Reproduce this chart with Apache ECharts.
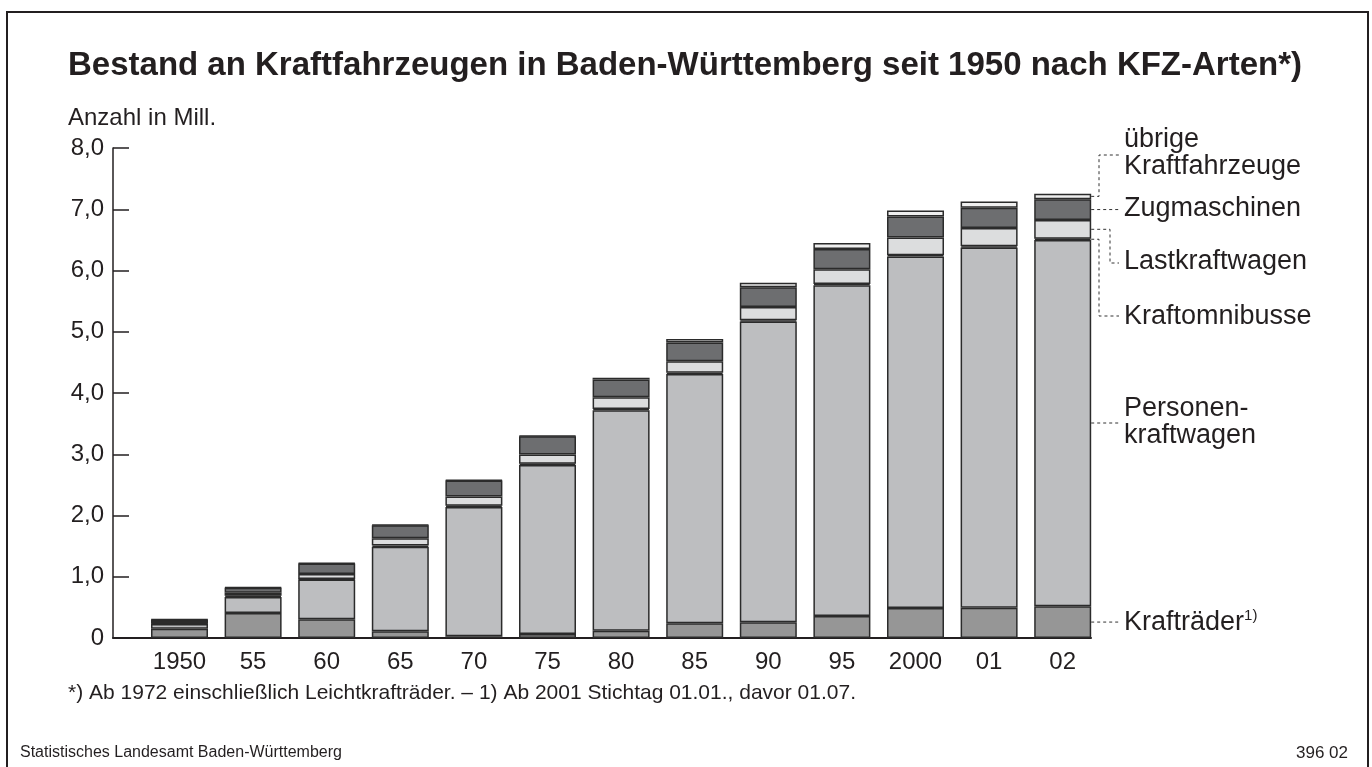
<!DOCTYPE html>
<html lang="de">
<head>
<meta charset="UTF-8" />
<title>Bestand an Kraftfahrzeugen</title>
<script src="https://cdn.jsdelivr.net/npm/echarts@6.0.0/dist/echarts.min.js"></script>
<style>
  html, body { margin: 0; padding: 0; background: #fff; }
</style>
</head>
<body>
<div id="main" style="width: 1372px; height: 767px"></div>
<script type="text/javascript">
// Bestand in Mill. nach KFZ-Arten
const jahre = ["1950", "55", "60", "65", "70", "75", "80", "85", "90", "95", "2000", "01", "02"];
const kraftraeder = [0.15, 0.41, 0.305, 0.11, 0.03, 0.065, 0.12, 0.24, 0.256, 0.36, 0.49, 0.495, 0.52];
const pkw = [0.08, 0.26, 0.65, 1.38, 2.11, 2.76, 3.6, 4.07, 4.91, 5.4, 5.74, 5.88, 5.98];
const busse = [0.005, 0.02, 0.01, 0.02, 0.02, 0.02, 0.02, 0.02, 0.02, 0.02, 0.02, 0.02, 0.02];
const lkw = [0.025, 0.05, 0.08, 0.12, 0.15, 0.15, 0.19, 0.19, 0.22, 0.24, 0.29, 0.3, 0.305];
const zugmaschinen = [0.04, 0.08, 0.17, 0.21, 0.26, 0.3, 0.29, 0.305, 0.32, 0.33, 0.34, 0.33, 0.34];
const uebrige = [0.005, 0.01, 0.01, 0.01, 0.01, 0.01, 0.03, 0.055, 0.075, 0.1, 0.1, 0.1, 0.09];
const yLabels = ["0", "1,0", "2,0", "3,0", "4,0", "5,0", "6,0", "7,0", "8,0"];

const FONT = "Liberation Sans, Arial, sans-serif";
const INK = "#231f20";
const BAR_W = 57;

const reihen = [
  { name: "Krafträder", data: kraftraeder, color: "#969696" },
  { name: "Personenkraftwagen", data: pkw, color: "#bdbec0" },
  { name: "Kraftomnibusse", data: busse, color: "#8a8a8a" },
  { name: "Lastkraftwagen", data: lkw, color: "#dcddde" },
  { name: "Zugmaschinen", data: zugmaschinen, color: "#6d6e70" },
  { name: "übrige Kraftfahrzeuge", data: uebrige, color: "#efefef" },
];

const myChart = echarts.init(document.getElementById("main"));

// grid 0: nur Achsenkreuz (y-Achse sitzt links vom ersten Balken)
// grid 1: Balken auf Kategorienachse
const option = {
  animation: false,
  backgroundColor: "#fff",
  grid: [
    { left: 113, width: 978, top: 148, height: 490 },
    { left: 142.7, width: 956.8, top: 148, height: 490 },
  ],
  xAxis: [
    {
      gridIndex: 0,
      type: "value",
      min: 0,
      max: 1,
      axisLine: { show: true, onZero: false, lineStyle: { color: INK, width: 2 } },
      axisTick: { show: false },
      axisLabel: { show: false },
      splitLine: { show: false },
    },
    {
      gridIndex: 1,
      type: "category",
      data: jahre,
      axisLine: { show: false },
      axisTick: { show: false },
      axisLabel: {
        fontFamily: FONT,
        fontSize: 24,
        color: INK,
        margin: 24,
        verticalAlign: "middle",
      },
    },
  ],
  yAxis: [
    {
      gridIndex: 0,
      type: "value",
      min: 0,
      max: 8,
      interval: 1,
      axisLine: { show: true, onZero: false, lineStyle: { color: INK, width: 1.5 } },
      axisTick: { show: true, inside: true, length: 16, lineStyle: { color: INK, width: 1.5 } },
      splitLine: { show: false },
      axisLabel: {
        formatter: (v) => yLabels[Math.round(v)],
        fontFamily: FONT,
        fontSize: 24,
        color: INK,
        margin: 9,
      },
    },
    { gridIndex: 1, type: "value", min: 0, max: 8, show: false },
  ],
  series: reihen.map((r) => ({
    name: r.name,
    type: "bar",
    xAxisIndex: 1,
    yAxisIndex: 1,
    stack: "kfz",
    barWidth: BAR_W,
    data: r.data,
    itemStyle: { color: r.color, borderColor: "#2b2b2b", borderWidth: 1.5 },
  })),
};

myChart.setOption(option);

// Beschriftung rechts mit gestrichelten Hinweislinien zum letzten Balken
const last = jahre.length - 1;
let cum = 0;
const mitte = reihen.map((r) => {
  const v = r.data[last];
  const y = myChart.convertToPixel({ gridIndex: 1 }, [last, cum + v / 2])[1];
  cum += v;
  return y;
});
const xr = myChart.convertToPixel({ gridIndex: 1 }, [last, 0])[0] + BAR_W / 2;
const xt = 1124, xe = 1119;
const LS = 27; // Schriftgröße Legende

function leader(points) {
  return {
    type: "polyline",
    shape: { points: points },
    style: { stroke: "#333", lineWidth: 1, lineDash: [3, 3], fill: null },
    silent: true,
  };
}
function txt(x, y, s, size, extra) {
  return {
    type: "text",
    x: x,
    y: y,
    style: Object.assign(
      { text: s, fill: INK, font: size + "px " + FONT, textVerticalAlign: "middle" },
      extra || {}
    ),
    silent: true,
  };
}

const graphics = [
  {
    type: "rect",
    shape: { x: 7, y: 12, width: 1361, height: 800 },
    style: { stroke: INK, lineWidth: 2, fill: null },
    silent: true,
  },
  txt(68, 66, "Bestand an Kraftfahrzeugen in Baden-Württemberg seit 1950 nach KFZ-Arten*)", 33, {
    font: "bold 33px " + FONT,
  }),
  txt(68, 118, "Anzahl in Mill.", 24),
  txt(68, 693, "*) Ab 1972 einschließlich Leichtkrafträder. – 1) Ab 2001 Stichtag 01.01., davor 01.07.", 21),
  txt(20, 753, "Statistisches Landesamt Baden-Württemberg", 16),
  txt(1348, 753, "396 02", 17, { textAlign: "right" }),

  // übrige Kraftfahrzeuge
  leader([[xr, mitte[5]], [1099, mitte[5]], [1099, 155], [xe, 155]]),
  txt(xt, 140, "übrige", LS),
  txt(xt, 167, "Kraftfahrzeuge", LS),
  // Zugmaschinen
  leader([[xr, mitte[4]], [xe, mitte[4]]]),
  txt(xt, mitte[4] - 1, "Zugmaschinen", LS),
  // Lastkraftwagen
  leader([[xr, mitte[3]], [1110, mitte[3]], [1110, 263], [xe, 263]]),
  txt(xt, 262, "Lastkraftwagen", LS),
  // Kraftomnibusse
  leader([[xr, mitte[2]], [1099, mitte[2]], [1099, 316], [xe, 316]]),
  txt(xt, 317, "Kraftomnibusse", LS),
  // Personenkraftwagen
  leader([[xr, mitte[1]], [xe, mitte[1]]]),
  txt(xt, mitte[1] - 14, "Personen-", LS),
  txt(xt, mitte[1] + 13, "kraftwagen", LS),
  // Krafträder mit Fußnote
  leader([[xr, mitte[0]], [xe, mitte[0]]]),
  {
    type: "text",
    x: xt,
    y: mitte[0],
    style: {
      text: "{a|Krafträder}{s|1)}",
      fill: INK,
      font: LS + "px " + FONT,
      textVerticalAlign: "middle",
      rich: {
        a: { fontSize: LS, fontFamily: FONT, fill: INK },
        s: { fontSize: 15, fontFamily: FONT, fill: INK, verticalAlign: "top" },
      },
    },
    silent: true,
  },
];

myChart.setOption({ graphic: graphics });
</script>
</body>
</html>
